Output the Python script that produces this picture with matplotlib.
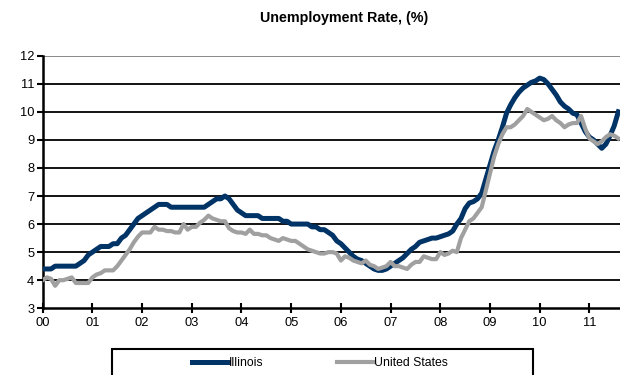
import numpy as np
import matplotlib.pyplot as plt
from matplotlib.patches import Rectangle

plt.rcParams['font.family'] = ['Liberation Sans', 'DejaVu Sans']

# monthly rates, Jan 2000 onwards
illinois = [
    4.4, 4.4, 4.4, 4.5, 4.5, 4.5, 4.5, 4.5, 4.5, 4.6, 4.7, 4.9,       # 2000
    5.0, 5.1, 5.2, 5.2, 5.2, 5.3, 5.3, 5.5, 5.6, 5.8, 6.0, 6.2,       # 2001
    6.3, 6.4, 6.5, 6.6, 6.7, 6.7, 6.7, 6.6, 6.6, 6.6, 6.6, 6.6,       # 2002
    6.6, 6.6, 6.6, 6.6, 6.7, 6.8, 6.9, 6.9, 7.0, 6.9, 6.7, 6.5,       # 2003
    6.4, 6.3, 6.3, 6.3, 6.3, 6.2, 6.2, 6.2, 6.2, 6.2, 6.1, 6.1,       # 2004
    6.0, 6.0, 6.0, 6.0, 6.0, 5.9, 5.9, 5.8, 5.8, 5.7, 5.6, 5.4,       # 2005
    5.3, 5.15, 5.0, 4.85, 4.75, 4.7, 4.6, 4.5, 4.4, 4.35, 4.35, 4.4,  # 2006
    4.5, 4.6, 4.7, 4.8, 4.95, 5.1, 5.2, 5.35, 5.4, 5.45, 5.5, 5.5,    # 2007
    5.55, 5.6, 5.65, 5.75, 6.0, 6.2, 6.55, 6.75, 6.8, 6.9, 7.1, 7.6,  # 2008
    8.1, 8.6, 9.0, 9.45, 9.95, 10.25, 10.5, 10.7, 10.85, 10.95, 11.05, 11.1,  # 2009
    11.2, 11.15, 11.0, 10.8, 10.6, 10.35, 10.2, 10.1, 9.95, 9.9, 9.6, 9.3,    # 2010
    9.1, 9.0, 8.85, 8.7, 8.85, 9.15, 9.5, 10.0,                      # 2011
]
united_states = [
    4.0, 4.1, 4.05, 3.8, 4.0, 4.0, 4.05, 4.1, 3.9, 3.9, 3.9, 3.9,     # 2000
    4.1, 4.2, 4.25, 4.35, 4.35, 4.35, 4.5, 4.7, 4.9, 5.1, 5.35, 5.55, # 2001
    5.7, 5.7, 5.7, 5.9, 5.8, 5.8, 5.75, 5.75, 5.7, 5.7, 6.0, 5.8,     # 2002
    5.9, 5.9, 6.05, 6.15, 6.3, 6.2, 6.15, 6.1, 6.1, 5.85, 5.75, 5.7,  # 2003
    5.7, 5.65, 5.8, 5.65, 5.65, 5.6, 5.6, 5.5, 5.45, 5.4, 5.5, 5.45,  # 2004
    5.4, 5.4, 5.3, 5.2, 5.1, 5.05, 5.0, 4.95, 4.95, 5.0, 5.0, 4.95,   # 2005
    4.7, 4.85, 4.8, 4.7, 4.65, 4.6, 4.7, 4.55, 4.5, 4.4, 4.45, 4.5,   # 2006
    4.65, 4.5, 4.5, 4.45, 4.4, 4.55, 4.65, 4.65, 4.85, 4.8, 4.75, 4.75,  # 2007
    5.0, 4.9, 4.95, 5.05, 5.0, 5.5, 5.8, 6.1, 6.2, 6.4, 6.6, 7.2,     # 2008
    7.8, 8.4, 8.85, 9.2, 9.45, 9.45, 9.55, 9.7, 9.85, 10.1, 10.0, 9.9,  # 2009
    9.8, 9.7, 9.75, 9.85, 9.7, 9.6, 9.45, 9.55, 9.6, 9.6, 9.85, 9.4,  # 2010
    9.05, 8.95, 8.85, 8.95, 9.1, 9.2, 9.15, 9.05,                     # 2011
]
year_ticks = list(range(2000, 2012))
year_labels = ['%02d' % (y % 100) for y in year_ticks]

t = 2000 + np.arange(len(illinois)) / 12.0

fig = plt.figure(figsize=(6.2, 3.75), dpi=100)
ax = fig.add_axes([0.0689, 0.178, 0.9311, 0.6735])

for v in range(4, 12):
    ax.axhline(v, color='black', lw=1.3, zorder=1)
ax.axhline(12, color='#808080', lw=1.3, zorder=1)

ax.plot(t, illinois, color='#003366', lw=3.6, label='Illinois', zorder=3)
ax.plot(t, united_states, color='#a0a0a0', lw=3.0, label='United States', zorder=4)

ax.set_xlim(2000, 2000 + 139.4 / 12)
ax.set_ylim(3, 12)
ax.set_yticks(range(3, 13))
ax.set_xticks(year_ticks)
ax.set_xticklabels(year_labels)
for s in ['top', 'right']:
    ax.spines[s].set_visible(False)
ax.spines['left'].set_linewidth(1.8)
ax.spines['bottom'].set_linewidth(1.8)
ax.tick_params(axis='y', direction='out', length=4, width=1.5, labelsize=9.3, pad=2)
ax.tick_params(axis='x', direction='inout', length=7, width=1.5, labelsize=9.3, pad=3)

fig.text(0.555, 0.952, 'Unemployment Rate, (%)', ha='center', va='center',
         fontsize=10.3, fontweight='bold')

fig.add_artist(Rectangle((0.1806, -0.05), 0.6791, 0.1193, transform=fig.transFigure,
                         fill=False, edgecolor='black', lw=1.5))
fig.legend(loc='center', bbox_to_anchor=(0.516, 0.032), ncol=2, frameon=False,
           fontsize=8.8, handlelength=3.0, handletextpad=0.05, columnspacing=6.0)

fig.savefig('out.png', dpi=100)
